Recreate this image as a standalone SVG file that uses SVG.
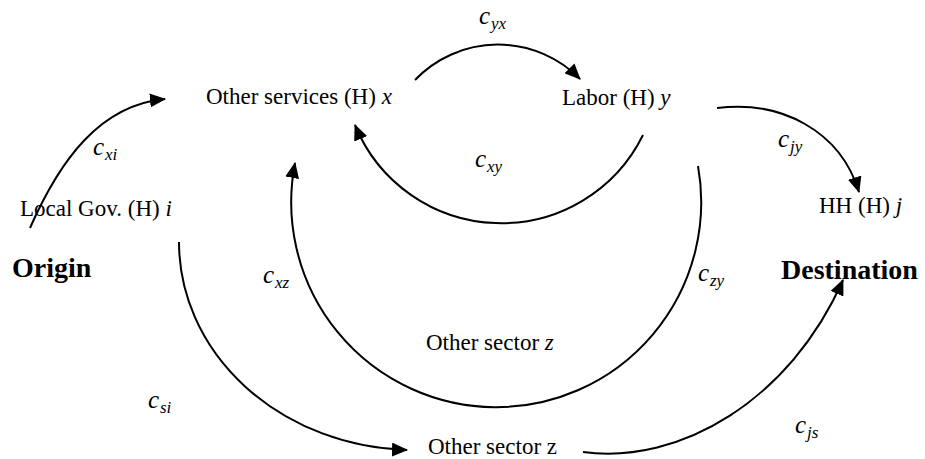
<svg xmlns="http://www.w3.org/2000/svg" width="925" height="459" viewBox="0 0 925 459" font-family="'Liberation Serif', 'DejaVu Serif', 'Times New Roman', serif">
<defs>
<style>
text{font-family:'Liberation Serif','DejaVu Serif','Times New Roman',serif;fill:#000}
.n{font-size:23px}
.b{font-size:28px;font-weight:bold}
.c{font-size:25px;font-style:italic}
.s{font-size:17px;font-style:italic}
.i{font-style:italic}
.e{fill:none;stroke:#000;stroke-width:2}
</style>
<marker id="ah" viewBox="0 0 16 14" refX="15" refY="7" markerWidth="16" markerHeight="14" markerUnits="userSpaceOnUse" orient="auto">
<path d="M0,0 L16,7 L0,14 Z" fill="#000"/>
</marker>
</defs>
<rect width="925" height="459" fill="#fff"/>
<g id="connectors">
<path class="e" marker-end="url(#ah)" d="M30,228 C60,160 100,105 165,99"/>
<path class="e" marker-end="url(#ah)" d="M415,80 A115,115 0 0 1 580,79"/>
<path class="e" marker-end="url(#ah)" d="M643,135 A158,158 0 0 1 355,125"/>
<path class="e" marker-end="url(#ah)" d="M717,108 C780,100 840,130 859,192"/>
<path class="e" marker-end="url(#ah)" d="M698,166 A205,205 0 1 1 295,163"/>
<path class="e" marker-end="url(#ah)" d="M179,242 A236,208 0 0 0 407,450"/>
<path class="e" marker-end="url(#ah)" d="M583,452 C680,465 790,400 843,280"/>
</g>
<g id="label-cxi"><text x="93" y="155" class="c">c</text><text x="105" y="160" class="s">xi</text></g>
<g id="label-cyx"><text x="479" y="24" class="c">c</text><text x="491" y="29" class="s">yx</text></g>
<g id="label-cxy"><text x="475" y="167" class="c">c</text><text x="487" y="172" class="s">xy</text></g>
<g id="label-cjy"><text x="778" y="147" class="c">c</text><text x="790" y="152" class="s">jy</text></g>
<g id="label-cxz"><text x="263" y="283" class="c">c</text><text x="275" y="288" class="s">xz</text></g>
<g id="label-czy"><text x="698" y="281" class="c">c</text><text x="710" y="286" class="s">zy</text></g>
<g id="label-csi"><text x="148" y="408" class="c">c</text><text x="160" y="413" class="s">si</text></g>
<g id="label-cjs"><text x="795" y="433" class="c">c</text><text x="807" y="438" class="s">js</text></g>
<g id="node-x"><text x="206" y="104" class="n">Other services (H) <tspan class="i">x</tspan></text></g>
<g id="node-y"><text x="562" y="105" class="n">Labor (H) <tspan class="i">y</tspan></text></g>
<g id="node-i"><text x="20" y="216" class="n">Local Gov. (H) <tspan class="i">i</tspan></text></g>
<g id="node-j"><text x="819" y="213" class="n">HH (H) <tspan class="i">j</tspan></text></g>
<g id="node-z-inner"><text x="426" y="350" class="n">Other sector <tspan class="i">z</tspan></text></g>
<g id="node-z"><text x="428" y="454" class="n">Other sector z</text></g>
<g id="origin"><text x="12" y="277" class="b">Origin</text></g>
<g id="destination"><text x="781" y="279" class="b">Destination</text></g>
</svg>
